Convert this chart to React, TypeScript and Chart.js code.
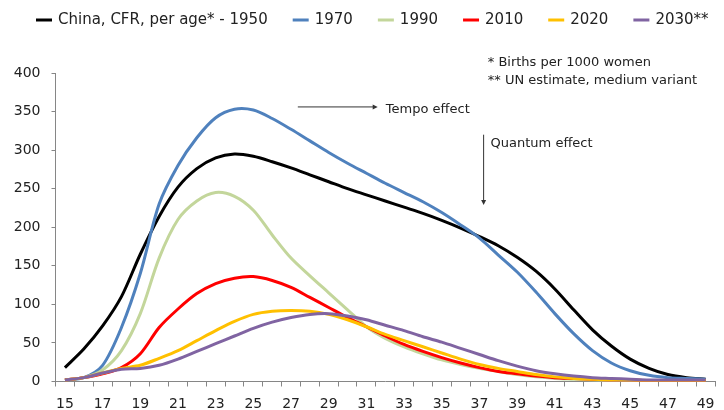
import React, { useEffect, useRef } from "react";
import { Chart, registerables } from "chart.js";

Chart.register(...registerables);

const ages = ["15","16","17","18","19","20","21","22","23","24","25","26","27","28","29","30","31","32","33","34","35","36","37","38","39","40","41","42","43","44","45","46","47","48","49"];

const cfr1950 = [18,42,72,110,165,214,252,276,290,295,292,285,277,268,259,250,242,234,226,218,209,199,188,176,161,143,120,93,67,46,29,17,9,5,3];
const cfr1970 = [2,5,21,70,140,230,280,316,342,353,352,341,327,312,297,283,270,257,245,233,219,203,186,164,142,116,88,62,40,24,14,8,5,4,3];
const cfr1990 = [2,5,15,40,88,160,210,234,245,240,222,190,160,137,115,93,71,56,45,36,28,22,17,13,9,6,4,3,2,1,1,1,1,1,1];
const cfr2010 = [2,5,10,18,36,70,94,114,127,134,136,131,122,109,96,83,71,59,48,39,31,24,18,13,10,7,5,4,3,2,2,1,1,1,1];
const cfr2020 = [2,5,11,17,21,30,40,53,66,78,87,91,92,91,87,80,71,61,53,45,37,29,22,17,13,9,6,4,3,2,2,1,1,1,1];
const cfr2030 = [2,5,11,16,17,21,29,39,49,59,69,77,83,87,88,85,80,73,66,58,51,43,35,27,20,14,10,7,5,4,3,2,2,2,2];

const seriesNames = ["China, CFR, per age* - 1950", "1970", "1990", "2010", "2020", "2030**"];
const seriesColors = ["#000000", "#4F81BD", "#C3D69B", "#FF0000", "#FFC000", "#8064A2"];
const seriesValues = [cfr1950, cfr1970, cfr1990, cfr2010, cfr2020, cfr2030];

const yMin = 0;
const yMax = 400;
const yStep = 50;

const footnotes = ["* Births per 1000 women", "** UN estimate, medium variant"];
const tempoLabel = "Tempo effect";
const quantumLabel = "Quantum effect";

const FONT = "'DejaVu Sans', Verdana, sans-serif";
const TEXT = "#222222";
const AXIS = "#868686";

const legendPlugin = {
  id: "customLegend",
  afterDraw(chart: any) {
    const ctx = chart.ctx;
    ctx.save();
    ctx.font = `15px ${FONT}`;
    ctx.textBaseline = "middle";
    ctx.textAlign = "left";
    let x = 36;
    const y = 20;
    chart.data.datasets.forEach((ds: any) => {
      ctx.strokeStyle = ds.borderColor;
      ctx.lineWidth = 3;
      ctx.beginPath();
      ctx.moveTo(x, y);
      ctx.lineTo(x + 16, y);
      ctx.stroke();
      ctx.fillStyle = TEXT;
      ctx.fillText(ds.label, x + 22, y);
      x += 22 + ctx.measureText(ds.label).width + 25;
    });
    ctx.restore();
  },
};

const annotationPlugin = {
  id: "annotations",
  afterDraw(chart: any) {
    const ctx = chart.ctx;
    const xs = chart.scales.x;
    const ys = chart.scales.y;
    const px = (age: number) => xs.getPixelForValue(age - 15);
    const py = (v: number) => ys.getPixelForValue(v);
    ctx.save();
    ctx.strokeStyle = "#333";
    ctx.fillStyle = "#333";
    ctx.lineWidth = 1;
    // tempo arrow
    const tx0 = px(27.36), tx1 = px(31.6), ty = py(356);
    ctx.beginPath();
    ctx.moveTo(tx0, ty);
    ctx.lineTo(tx1 - 4, ty);
    ctx.stroke();
    ctx.beginPath();
    ctx.moveTo(tx1, ty);
    ctx.lineTo(tx1 - 5, ty - 2.5);
    ctx.lineTo(tx1 - 5, ty + 2.5);
    ctx.closePath();
    ctx.fill();
    // quantum arrow
    const qx = px(37.22), qy0 = py(320), qy1 = py(229);
    ctx.beginPath();
    ctx.moveTo(qx, qy0);
    ctx.lineTo(qx, qy1 - 4);
    ctx.stroke();
    ctx.beginPath();
    ctx.moveTo(qx, qy1);
    ctx.lineTo(qx - 2.5, qy1 - 5);
    ctx.lineTo(qx + 2.5, qy1 - 5);
    ctx.closePath();
    ctx.fill();
    // texts
    ctx.fillStyle = TEXT;
    ctx.font = `13px ${FONT}`;
    ctx.textBaseline = "middle";
    ctx.textAlign = "left";
    ctx.fillText(tempoLabel, px(32.03), py(352));
    ctx.fillText(quantumLabel, px(37.59), py(309));
    ctx.fillText(footnotes[0], px(37.44), py(414));
    ctx.fillText(footnotes[1], px(37.44), py(389.5));
    ctx.restore();
  },
};

export default function App() {
  const ref = useRef<HTMLCanvasElement | null>(null);

  useEffect(() => {
    if (!ref.current) return;
    const H = 420;
    const chart = new Chart(ref.current, {
      type: "line",
      data: {
        labels: ages,
        datasets: seriesValues.map((vals, i) => ({
          label: seriesNames[i],
          data: vals,
          borderColor: seriesColors[i],
          backgroundColor: seriesColors[i],
          borderWidth: 3,
          pointRadius: 0,
          tension: 0.3,
          fill: false,
          order: seriesValues.length - i,
        })),
      },
      options: {
        animation: false,
        responsive: false,
        devicePixelRatio: 1,
        layout: { padding: { top: 73, right: 9, left: 0, bottom: 0 } },
        plugins: {
          legend: { display: false },
          tooltip: { enabled: false },
          title: { display: false },
        },
        scales: {
          x: {
            type: "category",
            offset: true,
            afterFit: (scale: any) => {
              scale.height = H - 381.5;
            },
            grid: {
              display: true,
              drawOnChartArea: false,
              drawTicks: true,
              tickLength: 5,
              offset: true,
              color: AXIS,
            },
            border: { display: true, color: AXIS, width: 1 },
            ticks: {
              autoSkip: false,
              maxRotation: 0,
              minRotation: 0,
              padding: 9,
              color: TEXT,
              font: { family: FONT, size: 14 },
              callback: (_v: any, idx: number) => (idx % 2 === 0 ? ages[idx] : ""),
            },
          },
          y: {
            min: yMin,
            max: yMax,
            afterFit: (scale: any) => {
              scale.width = 55.5;
            },
            grid: {
              display: true,
              drawOnChartArea: false,
              drawTicks: true,
              tickLength: 4,
              color: AXIS,
            },
            border: { display: true, color: AXIS, width: 1 },
            ticks: {
              stepSize: yStep,
              padding: 11,
              color: TEXT,
              font: { family: FONT, size: 14 },
            },
          },
        },
      },
      plugins: [legendPlugin, annotationPlugin],
    });
    return () => chart.destroy();
  }, []);

  return (
    <div style={{ position: "absolute", left: 0, top: 0, width: 724, height: 420, background: "#fff" }}>
      <canvas ref={ref} width={724} height={420} style={{ display: "block" }} />
    </div>
  );
}
